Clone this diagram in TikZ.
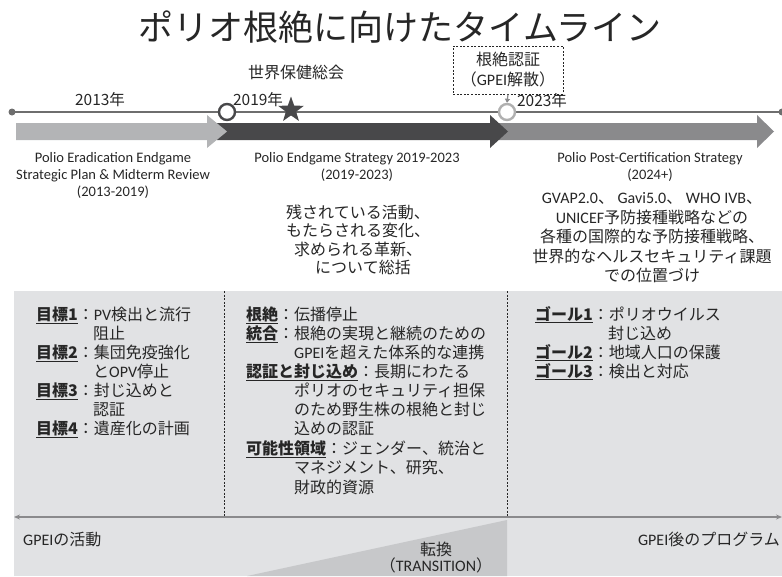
\documentclass[tikz,border=0pt]{standalone}
\usepackage{fontspec}
\setmainfont{Noto Sans CJK JP}
\newfontfamily\en{Carlito}
\usetikzlibrary{arrows.meta,shapes.geometric}
\definecolor{txt}{HTML}{262626}
\definecolor{tline}{HTML}{6E6E6E}
\definecolor{arrlight}{HTML}{B3B4B6}
\definecolor{arrdark}{HTML}{48484A}
\definecolor{arrmid}{HTML}{8A8A8C}
\definecolor{panel}{HTML}{E1E2E4}
\definecolor{trans}{HTML}{C7C8CA}
\definecolor{ring}{HTML}{B0B0B0}
\newcommand{\lab}[1]{\underline{\textbf{#1}}}
\begin{document}
\begin{tikzpicture}[x=1pt,y=-1pt,
  every node/.style={inner sep=0pt, text=txt},
  body/.style={font=\fontsize{16}{19}\selectfont, anchor=base west},
  entext/.style={font=\en\fontsize{14.5}{17}\selectfont, align=center, anchor=base},
  jpblock/.style={font=\fontsize{16}{19}\selectfont, align=center},
  yearlab/.style={font=\fontsize{15.5}{18}\selectfont, anchor=base},
  divider/.style={draw=txt, line width=0.7pt, dash pattern=on 2pt off 1.6pt},
  ringnode/.style={circle, fill=white, line width=2.4pt, minimum size=16pt}]
\useasboundingbox (0,0) rectangle (782,576);

% title
\node[font=\fontsize{35}{40}\selectfont, anchor=base] (title) at (400,40) {ポリオ根絶に向けたタイムライン};

% timeline line
\coordinate (tlL) at (12,112);
\coordinate (tlR) at (782,112);
\draw[tline, line width=2.4pt] (tlL) -- (tlR);
\fill[tline] (tlL) circle (3.5);
\fill[tline] (tlR) circle (3.5);

% band arrows
\fill[arrmid] (495,123) -- (757,123) -- (757,115) -- (774,131.5) -- (757,148) -- (757,140) -- (495,140) -- cycle;
\fill[arrdark] (217,123) -- (490,123) -- (490,115) -- (508,131.5) -- (490,148) -- (490,140) -- (217,140) -- cycle;
\fill[arrlight] (16,123) -- (207,123) -- (207,115) -- (227,131.5) -- (207,148) -- (207,140) -- (16,140) -- cycle;

% markers
\node[ringnode, draw=arrdark] (c2019) at (227,112) {};
\node[ringnode, draw=ring] (c2023) at (507,112) {};
\node[star, star points=5, star point ratio=2.5, fill=arrdark, minimum size=27pt] (whs) at (291,110) {};

% labels above the line
\node[yearlab] (y2013) at (100,105) {2013年};
\node[yearlab] (y2019) at (258,105) {2019年};
\node[yearlab] (y2023) at (542,106) {2023年};
\node[font=\fontsize{16}{19}\selectfont, anchor=base] (wha) at (296,78) {世界保健総会};

% certification box
\node[draw=txt, line width=0.7pt, dash pattern=on 2pt off 1.6pt, minimum width=110pt, minimum height=48pt,
      align=center, font=\fontsize{16}{20}\selectfont] (cert) at (508,70) {根絶認証\\（{\en\fontsize{16}{20}\selectfont GPEI}解散）};
\draw[arrmid, line width=1.2pt, -{Triangle[length=4pt,width=5pt]}] (cert.south) -- (c2023.north);

% strategy names (base = last line)
\node[entext] (s1) at (113,196) {Polio Eradication Endgame\\Strategic Plan \& Midterm Review\\(2013-2019)};
\node[entext] (s2) at (357,179) {Polio Endgame Strategy 2019-2023\\(2019-2023)};
\node[entext] (s3) at (650,179) {Polio Post-Certification Strategy\\(2024+)};

% descriptive blocks
\node[jpblock, font=\fontsize{16}{18.5}\selectfont] (d2) at (358,240) {残されている活動、\\もたらされる変化、\\求められる革新、\\\hspace{10pt}について総括};
\node[jpblock, font=\fontsize{16}{19.5}\selectfont] (d3) at (652,238) {{\en\fontsize{16}{19.5}\selectfont GVAP2.0}、 {\en\fontsize{16}{19.5}\selectfont Gavi5.0}、 {\en\fontsize{16}{19.5}\selectfont WHO IVB}、\\{\en\fontsize{16}{19.5}\selectfont UNICEF}予防接種戦略などの\\各種の国際的な予防接種戦略、\\世界的なヘルスセキュリティ課題\\での位置づけ};

% panel
\fill[panel] (14,291) rectangle (782,576);
\fill[trans] (247,576) -- (507,520) -- (507,576) -- cycle;
\coordinate (d1t) at (224,291);
\coordinate (d1b) at (224,517);
\coordinate (d2t) at (507,291);
\coordinate (d2b) at (507,517);
\draw[divider] (d1t) -- (d1b);
\draw[divider] (d2t) -- (d2b);
\coordinate (bL) at (14,517);
\coordinate (bR) at (782,517);
\draw[arrmid, line width=1.8pt, {Stealth[length=6pt,width=5pt]}-{Stealth[length=6pt,width=5pt]}] (bL) -- (bR);

% left column
\node[body] (l1) at (36,320) {\lab{目標1}：{\en PV}検出と流行};
\node[body] (l2) at (93,339) {阻止};
\node[body] (l3) at (36,358) {\lab{目標2}：集団免疫強化};
\node[body] (l4) at (93,377) {と{\en OPV}停止};
\node[body] (l5) at (36,396) {\lab{目標3}：封じ込めと};
\node[body] (l6) at (93,415) {認証};
\node[body] (l7) at (36,434) {\lab{目標4}：遺産化の計画};

% middle column
\node[body] (m1) at (246,320) {\lab{根絶}：伝播停止};
\node[body] (m2) at (246,339) {\lab{統合}：根絶の実現と継続のための};
\node[body] (m3) at (294,358) {{\en GPEI}を超えた体系的な連携};
\node[body] (m4) at (246,377) {\lab{認証と封じ込め}：長期にわたる};
\node[body] (m5) at (294,396) {ポリオのセキュリティ担保};
\node[body] (m6) at (294,415) {のため野生株の根絶と封じ};
\node[body] (m7) at (294,434) {込めの認証};
\node[body] (m8) at (246,454) {\lab{可能性領域}：ジェンダー、統治と};
\node[body] (m9) at (294,473) {マネジメント、研究、};
\node[body] (m10) at (294,493) {財政的資源};

% right column
\node[body] (r1) at (535,320) {\lab{ゴール1}：ポリオウイルス};
\node[body] (r2) at (608,339) {封じ込め};
\node[body] (r3) at (535,358) {\lab{ゴール2}：地域人口の保護};
\node[body] (r4) at (535,377) {\lab{ゴール3}：検出と対応};

% bottom labels
\node[body] (gpei) at (23,545) {{\en GPEI}の活動};
\node[body, anchor=base east] (post) at (780,545) {{\en GPEI}後のプログラム};
\node[font=\fontsize{16}{18}\selectfont, anchor=base] (tr1) at (436,555) {転換};
\node[font=\fontsize{16}{18}\selectfont, anchor=base] (tr2) at (436,571) {（{\en TRANSITION}）};
\end{tikzpicture}
\end{document}
